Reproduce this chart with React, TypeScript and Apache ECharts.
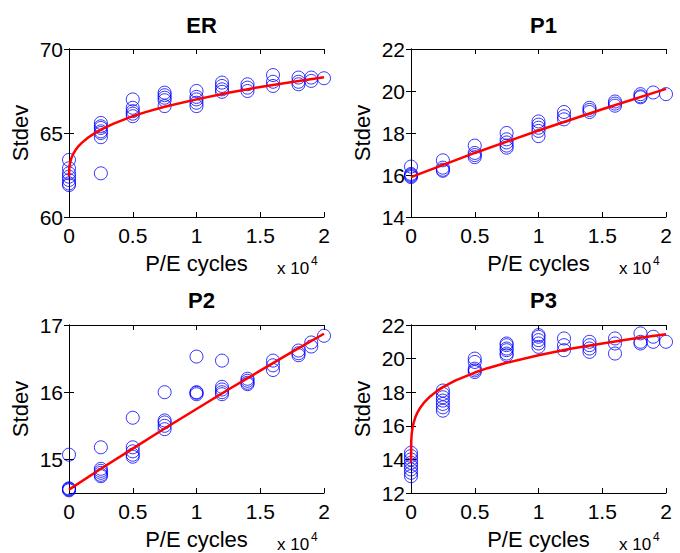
import React, { useEffect, useRef } from "react";
import * as echarts from "echarts";

// ---- data ----
const titles = ["ER", "P1", "P2", "P3"];
const xColumns = [0, 2500, 5000, 7500, 10000, 12000, 14000, 16000, 18000, 19000, 20000];
const xTickLabels = ["0", "0.5", "1", "1.5", "2"];

const erPoints = [
  [63.4, 62.9, 62.6, 62.4, 62.2, 62.0, 61.9],
  [65.6, 65.4, 65.3, 65.1, 65.0, 64.75, 62.6],
  [67.0, 66.5, 66.3, 66.15, 66.0],
  [67.4, 67.25, 67.1, 66.95, 66.6],
  [67.5, 67.15, 67.0, 66.8, 66.6],
  [68.0, 67.8, 67.6, 67.45],
  [67.9, 67.7, 67.5],
  [68.45, 68.05, 67.8],
  [68.3, 68.05, 67.9],
  [68.3, 68.1],
  [68.26],
];
const p1Points = [
  [16.4, 16.05, 16.0, 15.95, 15.9],
  [16.7, 16.35, 16.25, 16.2],
  [17.4, 17.05, 16.95, 16.85],
  [18.0, 17.7, 17.55, 17.4, 17.3],
  [18.55, 18.4, 18.25, 18.1, 17.85],
  [19.0, 18.8, 18.65],
  [19.2, 19.1, 19.0],
  [19.5, 19.4, 19.3],
  [19.85, 19.75, 19.7],
  [19.93],
  [19.85],
];
const p2Points = [
  [15.07, 14.57, 14.56, 14.55, 14.54],
  [15.18, 14.86, 14.83, 14.8, 14.77, 14.75],
  [15.62, 15.18, 15.12, 15.07, 15.04],
  [16.0, 15.58, 15.55, 15.5, 15.45],
  [16.53, 16.0, 15.99, 15.97],
  [16.47, 16.08, 16.04, 16.0, 15.97],
  [16.2, 16.17, 16.14, 16.12],
  [16.47, 16.4, 16.33],
  [16.62, 16.58, 16.55],
  [16.74, 16.68],
  [16.84],
];
const p3Points = [
  [14.4, 14.2, 14.0, 13.8, 13.6, 13.4, 13.2, 13.0],
  [18.1, 17.9, 17.7, 17.5, 17.3, 17.1, 16.9],
  [20.0, 19.8, 19.4, 19.3, 19.2],
  [20.9, 20.8, 20.6, 20.5, 20.3, 20.2],
  [21.4, 21.3, 21.1, 20.9, 20.7],
  [21.2, 20.8, 20.5],
  [21.0, 20.8, 20.6, 20.4],
  [21.2, 20.9, 20.3],
  [21.5, 21.0, 20.9],
  [21.3, 21.0],
  [21.0],
];

// fitted curves (red), read at these x positions
const fitXCurved = [0, 20, 50, 100, 200, 350, 500, 750, 1000, 1500, 2000, 2500, 3500, 5000, 6000, 7500, 10000, 12500, 15000, 17500, 20000];
const erFitY = [62.4, 62.89, 63.08, 63.28, 63.53, 63.78, 63.97, 64.22, 64.41, 64.73, 64.98, 65.2, 65.56, 66.0, 66.24, 66.56, 67.0, 67.4, 67.74, 68.04, 68.32];
const p3FitY = [13.8, 15.11, 15.46, 15.78, 16.16, 16.53, 16.79, 17.11, 17.36, 17.75, 18.05, 18.3, 18.7, 19.17, 19.43, 19.75, 20.2, 20.59, 20.9, 21.19, 21.45];
const p1FitX = [0, 5000, 10000, 15000, 20000];
const p1FitY = [15.9, 17.05, 18.12, 19.13, 20.1];
const p2FitX = [0, 2500, 5000, 7500, 10000, 12500, 15000, 17500, 20000];
const p2FitY = [14.55, 14.86, 15.16, 15.46, 15.75, 16.04, 16.32, 16.6, 16.87];

const yRanges = [
  { min: 60, max: 70, ticks: [60, 65, 70] },
  { min: 14, max: 22, ticks: [14, 16, 18, 20, 22] },
  { min: 14.5, max: 17, ticks: [15, 16, 17] },
  { min: 12, max: 22, ticks: [12, 14, 16, 18, 20, 22] },
];

const FONT = "'Liberation Sans', Arial, Helvetica, sans-serif";

function toPairs(cols: number[][]) {
  const out: number[][] = [];
  cols.forEach((vals, i) => vals.forEach((v) => out.push([xColumns[i], v])));
  return out;
}
function zip(xs: number[], ys: number[]) {
  return xs.map((x, i) => [x, ys[i]]);
}

export default function App() {
  const ref = useRef<HTMLDivElement>(null);
  useEffect(() => {
    if (!ref.current) return;
    const chart = echarts.init(ref.current, null, { renderer: "svg" });
    const grids = [
      { left: 69, top: 49, width: 255, height: 168 },
      { left: 411, top: 49, width: 255, height: 168 },
      { left: 69, top: 325, width: 255, height: 168 },
      { left: 411, top: 325, width: 255, height: 168 },
    ];
    const scatterData = [erPoints, p1Points, p2Points, p3Points].map(toPairs);
    const fitData = [
      zip(fitXCurved, erFitY),
      zip(p1FitX, p1FitY),
      zip(p2FitX, p2FitY),
      zip(fitXCurved, p3FitY),
    ];
    const line = { lineStyle: { color: "#000", width: 1 } };
    const xTickVals = [0, 5000, 10000, 15000, 20000];
    const xAxes: any[] = [];
    const yAxes: any[] = [];
    grids.forEach((g, i) => {
      xAxes.push({
        type: "value", gridIndex: i, position: "bottom", min: 0, max: 20000, interval: 5000,
        axisLine: line, splitLine: { show: false },
        axisTick: { show: true, inside: true, length: 5, lineStyle: { color: "#000", width: 1 } },
        axisLabel: {
          margin: 8, color: "#000", fontSize: 21, fontFamily: FONT,
          formatter: (v: number) => xTickLabels[xTickVals.indexOf(v)] ?? "",
        },
        name: "P/E cycles", nameLocation: "middle", nameGap: 35,
        nameTextStyle: { color: "#000", fontSize: 22, fontFamily: FONT },
      });
      xAxes.push({
        type: "value", gridIndex: i, position: "top", min: 0, max: 20000, interval: 5000,
        axisLine: line, splitLine: { show: false },
        axisTick: { show: true, inside: true, length: 5, lineStyle: { color: "#000", width: 1 } },
        axisLabel: { show: false },
      });
      const r = yRanges[i];
      yAxes.push({
        type: "value", gridIndex: i, position: "left", min: r.min, max: r.max,
        axisLine: line, splitLine: { show: false },
        axisTick: { show: true, inside: true, length: 5, lineStyle: { color: "#000", width: 1 }, customValues: r.ticks },
        axisLabel: { margin: 6, color: "#000", fontSize: 21, fontFamily: FONT, customValues: r.ticks },
        name: "Stdev", nameLocation: "middle", nameGap: 38,
        nameTextStyle: { color: "#000", fontSize: 22, fontFamily: FONT },
      });
      yAxes.push({
        type: "value", gridIndex: i, position: "right", min: r.min, max: r.max,
        axisLine: line, splitLine: { show: false },
        axisTick: { show: true, inside: true, length: 5, lineStyle: { color: "#000", width: 1 }, customValues: r.ticks },
        axisLabel: { show: false },
      });
    });
    const series: any[] = [];
    grids.forEach((g, i) => {
      series.push({
        type: "scatter", xAxisIndex: 2 * i, yAxisIndex: 2 * i, data: scatterData[i],
        symbol: "circle", symbolSize: 13, clip: false,
        itemStyle: { color: "rgba(0,0,0,0)", borderColor: "#0000ff", borderWidth: 1 },
      });
      series.push({
        type: "line", xAxisIndex: 2 * i, yAxisIndex: 2 * i, data: fitData[i],
        showSymbol: false, smooth: false, clip: false,
        lineStyle: { color: "#ff0000", width: 2.5, join: "round" }, z: 5,
      });
    });
    const centers = grids.map((g) => g.left + g.width / 2);
    const title = titles.map((t, i) => ({
      text: t, left: centers[i], top: i < 2 ? 9 : 284, textAlign: "center",
      textStyle: { fontSize: 22, fontWeight: "bold", color: "#000", fontFamily: FONT },
    }));
    const graphic: any[] = [];
    grids.forEach((g, i) => {
      const x = g.left + 208;
      const y = g.top + g.height + 43;
      graphic.push({ type: "text", x, y, style: { text: "x 10", fontSize: 17, fontFamily: FONT, fill: "#000", verticalAlign: "top" } });
      graphic.push({ type: "text", x: x + 34, y: y - 5, style: { text: "4", fontSize: 12, fontFamily: FONT, fill: "#000", verticalAlign: "top" } });
    });
    chart.setOption({
      animation: false,
      backgroundColor: "#fff",
      title,
      grid: grids.map((g) => ({ ...g, containLabel: false })),
      xAxis: xAxes,
      yAxis: yAxes,
      series,
      graphic,
    });
    return () => chart.dispose();
  }, []);
  return <div ref={ref} style={{ position: "fixed", left: 0, top: 0, width: 680, height: 553 }} />;
}
